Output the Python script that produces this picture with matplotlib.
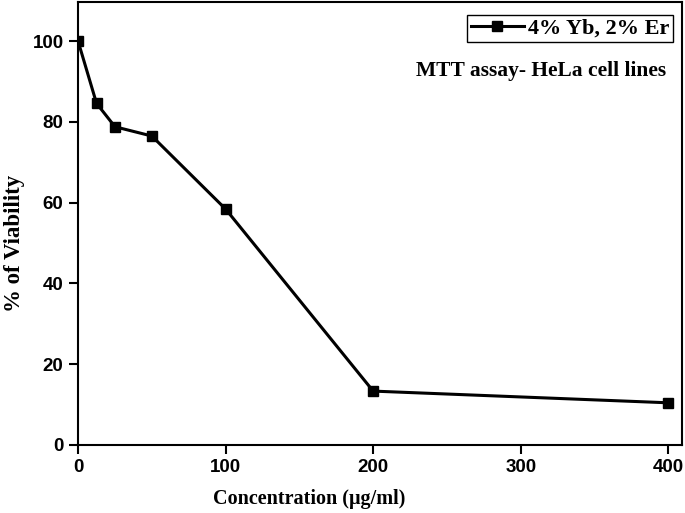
import matplotlib.pyplot as plt

# MTT assay data
concentration = [0, 12.5, 25, 50, 100, 200, 400]
viability = [100, 84.6, 78.8, 76.5, 58.4, 13.3, 10.4]
series_label = '4% Yb, 2% Er'

x_ticks = [0, 100, 200, 300, 400]
y_ticks = [0, 20, 40, 60, 80, 100]

serif = ['Liberation Serif', 'DejaVu Serif']
sans = ['Liberation Sans', 'DejaVu Sans']

fig = plt.figure(figsize=(6.85, 5.13), dpi=100)
ax = fig.add_axes([0.114, 0.133, 0.882, 0.863])

ax.plot(concentration, viability, color='black', lw=2.2, marker='s', ms=7,
        label=series_label)

ax.set_xlim(0, 409.5)
ax.set_ylim(0, 109.7)
ax.set_xticks(x_ticks)
ax.set_yticks(y_ticks)
for lab in ax.get_xticklabels() + ax.get_yticklabels():
    lab.set_fontfamily(sans)
    lab.set_fontweight('bold')
    lab.set_fontsize(13.5)
ax.tick_params(direction='out', length=6.5, width=1.5, pad=4)
for s in ax.spines.values():
    s.set_linewidth(1.5)

ax.set_xlabel('Concentration (\u03bcg/ml)', family=serif, fontweight='bold',
              fontsize=14.5)
ax.xaxis.set_label_coords(0.382, -0.1)
ax.set_ylabel('% of Viability', family=serif, fontweight='bold',
              fontsize=16.5)
ax.yaxis.set_label_coords(-0.088, 0.454)

leg = ax.legend(loc='upper right', bbox_to_anchor=(0.985, 0.971),
                prop={'family': serif, 'weight': 'bold', 'size': 16},
                fancybox=False, edgecolor='black', framealpha=1,
                handlelength=2.4, handletextpad=0.2, borderpad=0.15,
                borderaxespad=0)
leg.get_frame().set_linewidth(1.0)

ax.text(0.767, 0.844, 'MTT assay- HeLa cell lines', transform=ax.transAxes,
        ha='center', va='center', family=serif, fontweight='bold', fontsize=15.5)

fig.savefig('out.png', dpi=100)
